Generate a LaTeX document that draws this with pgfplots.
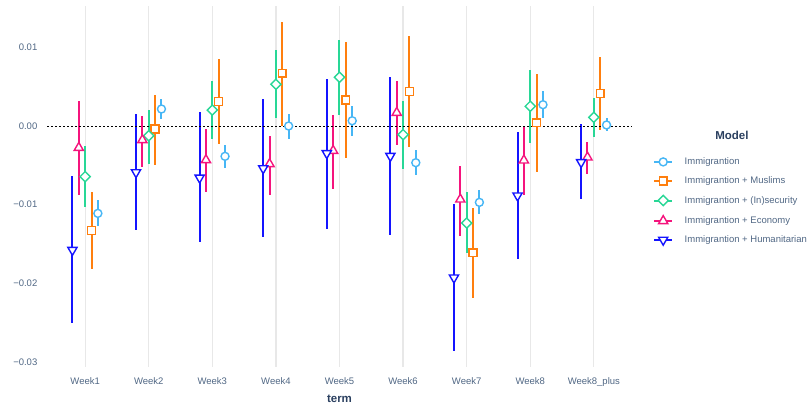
\documentclass[border=0pt]{standalone}
\usepackage{pgfplots}
\pgfplotsset{compat=1.18}
\usepackage{pgfplotstable}
\usepackage{fontspec}
\setmainfont{Liberation Sans}
\definecolor{cImm}{RGB}{70,182,245}
\definecolor{cMus}{RGB}{255,127,14}
\definecolor{cIns}{RGB}{40,215,150}
\definecolor{cEco}{RGB}{245,20,125}
\definecolor{cHum}{RGB}{20,20,255}
\definecolor{tickgrey}{RGB}{80,103,132}
\definecolor{titlegrey}{RGB}{42,63,95}
\definecolor{gridgrey}{RGB}{232,232,232}

% columns: w = week index (0 = Week1 ... 8 = Week8_plus), y = estimate, lo/hi = interval
\pgfplotstableread{
w y lo hi
0 -0.0111 -0.0127 -0.0094
1 0.00216 0.00085 0.00347
2 -0.00385 -0.0053 -0.00245
3 0.0 -0.00161 0.00152
4 0.00067 -0.00123 0.00254
5 -0.00466 -0.00627 -0.00301
6 -0.0097 -0.01122 -0.00809
7 0.00271 0.00102 0.00441
8 0.00013 -0.00067 0.00098
}\tImm
\pgfplotstableread{
w y lo hi
0 -0.0133 -0.01817 -0.00839
1 -0.00038 -0.00491 0.00398
2 0.00314 -0.00229 0.00847
3 0.0067 0.0 0.01318
4 0.0033 -0.00407 0.01067
5 0.00441 -0.00263 0.01144
6 -0.0161 -0.0219 -0.01038
7 0.00042 -0.00584 0.00661
8 0.00415 -0.00051 0.00873
}\tMus
\pgfplotstableread{
w y lo hi
0 -0.00644 -0.01033 -0.00254
1 -0.00123 -0.00487 0.00203
2 0.00203 -0.00169 0.00572
3 0.0053 0.00102 0.00966
4 0.00619 0.00136 0.01093
5 -0.0011 -0.00542 0.00318
6 -0.01233 -0.01618 -0.00843
7 0.0025 -0.00212 0.00712
8 0.00111 -0.00136 0.00351
}\tIns
\pgfplotstableread{
w y lo hi
0 -0.00276 -0.00877 0.00322
1 -0.00178 -0.00525 0.00127
2 -0.00432 -0.00843 -0.00042
3 -0.00483 -0.00873 -0.00127
4 -0.00314 -0.00797 0.00136
5 0.00169 -0.00238 0.00568
6 -0.00932 -0.01393 -0.00504
7 -0.00436 -0.0088 -0.00013
8 -0.00398 -0.0061 -0.00207
}\tEco
\pgfplotstableread{
w y lo hi
0 -0.01576 -0.02507 -0.00635
1 -0.00589 -0.01322 0.00152
2 -0.00657 -0.0147 0.00178
3 -0.00538 -0.01414 0.00347
4 -0.00347 -0.01313 0.00597
5 -0.00381 -0.01381 0.00627
6 -0.01927 -0.02859 -0.00991
7 -0.00885 -0.01686 -0.00072
8 -0.00461 -0.00932 0.00025
}\tHum

\pgfplotsset{
  ci/.style={
    forget plot, only marks, mark=none,
    error bars/y dir=both, error bars/y explicit, error bars/error mark=none,
    error bars/error bar style={line width=2bp, solid},
  },
}

\begin{document}
\begin{tikzpicture}
\path[use as bounding box] (0,0) rectangle (809bp,407bp);
\begin{axis}[
  at={(47bp,40bp)}, anchor=south west,
  scale only axis, width=585bp, height=361bp,
  xmin=-0.6, xmax=8.6, ymin=-0.03062, ymax=0.01525,
  axis line style={draw=none},
  major tick length=0pt,
  xtick={0,1,2,3,4,5,6,7,8},
  xticklabels={Week1,Week2,Week3,Week4,Week5,Week6,Week7,Week8,Week8\_plus},
  ytick={-0.03,-0.02,-0.01,0,0.01},
  yticklabels={−0.03,−0.02,−0.01,0.00,0.01},
  scaled y ticks=false,
  xmajorgrids, grid style={color=gridgrey, line width=1.3bp},
  ticklabel style={font=\fontsize{9.5bp}{11bp}\selectfont, text=tickgrey, inner sep=0pt},
  xticklabel style={anchor=base, yshift=-17.3bp},
  yticklabel style={anchor=east, xshift=-9.5bp},
  xlabel={\textbf{term}},
  xlabel style={at={(axis description cs:0.5,0)}, anchor=base, yshift=-35.3bp, inner sep=0pt,
    font=\fontsize{11.5bp}{13bp}\selectfont, text=titlegrey},
  legend cell align=left,
  legend style={at={(axis description cs:1.0359,0.5811)}, anchor=north west,
    draw=none, fill=none, inner sep=0pt, row sep=10bp,
    font=\fontsize{9.5bp}{11bp}\selectfont, text=tickgrey,
    nodes={inner sep=0pt, text height=7bp, text depth=2bp},
    /tikz/every odd column/.append style={column sep=11.5bp}},
  legend image code/.code={
    \draw[line width=2bp, solid] (0bp,0bp) -- (18bp,0bp);
    \draw[mark repeat=2, mark phase=2] plot coordinates {(0bp,0bp) (9bp,0bp) (18bp,0bp)};
  },
  clip=false,
]
\addplot[ci, color=cImm]
  table[x expr=\thisrow{w}+0.2, y=y, y error plus expr=\thisrow{hi}-\thisrow{y}, y error minus expr=\thisrow{y}-\thisrow{lo}] {\tImm};
\addplot[only marks, color=cImm, mark=*, mark size=4bp, mark options={line width=1.4bp, fill=white, solid}]
  table[x expr=\thisrow{w}+0.2, y=y] {\tImm};
\addlegendentry{Immigrantion}
\addplot[ci, color=cMus]
  table[x expr=\thisrow{w}+0.1, y=y, y error plus expr=\thisrow{hi}-\thisrow{y}, y error minus expr=\thisrow{y}-\thisrow{lo}] {\tMus};
\addplot[only marks, color=cMus, mark=square*, mark size=3.9bp, mark options={line width=1.4bp, fill=white, solid}]
  table[x expr=\thisrow{w}+0.1, y=y] {\tMus};
\addlegendentry{Immigrantion + Muslims}
\addplot[ci, color=cIns]
  table[x expr=\thisrow{w}, y=y, y error plus expr=\thisrow{hi}-\thisrow{y}, y error minus expr=\thisrow{y}-\thisrow{lo}] {\tIns};
\addplot[only marks, color=cIns, mark=square*, mark size=3.6bp, mark options={line width=1.4bp, fill=white, solid, rotate=45}]
  table[x expr=\thisrow{w}, y=y] {\tIns};
\addlegendentry{Immigrantion + (In)security}
\addplot[ci, color=cEco]
  table[x expr=\thisrow{w}-0.1, y=y, y error plus expr=\thisrow{hi}-\thisrow{y}, y error minus expr=\thisrow{y}-\thisrow{lo}] {\tEco};
\addplot[only marks, color=cEco, mark=triangle*, mark size=5.3bp, mark options={line width=1.4bp, fill=white, solid}]
  table[x expr=\thisrow{w}-0.1, y=y] {\tEco};
\addlegendentry{Immigrantion + Economy}
\addplot[ci, color=cHum]
  table[x expr=\thisrow{w}-0.2, y=y, y error plus expr=\thisrow{hi}-\thisrow{y}, y error minus expr=\thisrow{y}-\thisrow{lo}] {\tHum};
\addplot[only marks, color=cHum, mark=triangle*, mark size=5.3bp, mark options={line width=1.4bp, fill=white, solid, rotate=180}]
  table[x expr=\thisrow{w}-0.2, y=y] {\tHum};
\addlegendentry{Immigrantion + Humanitarian}
\addplot[forget plot, black, line width=1bp, dash pattern=on 2bp off 2bp] coordinates {(-0.6,0) (8.6,0)};
\node[font=\bfseries\fontsize{11.5bp}{13bp}\selectfont, text=titlegrey, inner sep=0pt]
  at (axis description cs:1.1709,0.6427) {Model};
\end{axis}
\end{tikzpicture}
\end{document}
